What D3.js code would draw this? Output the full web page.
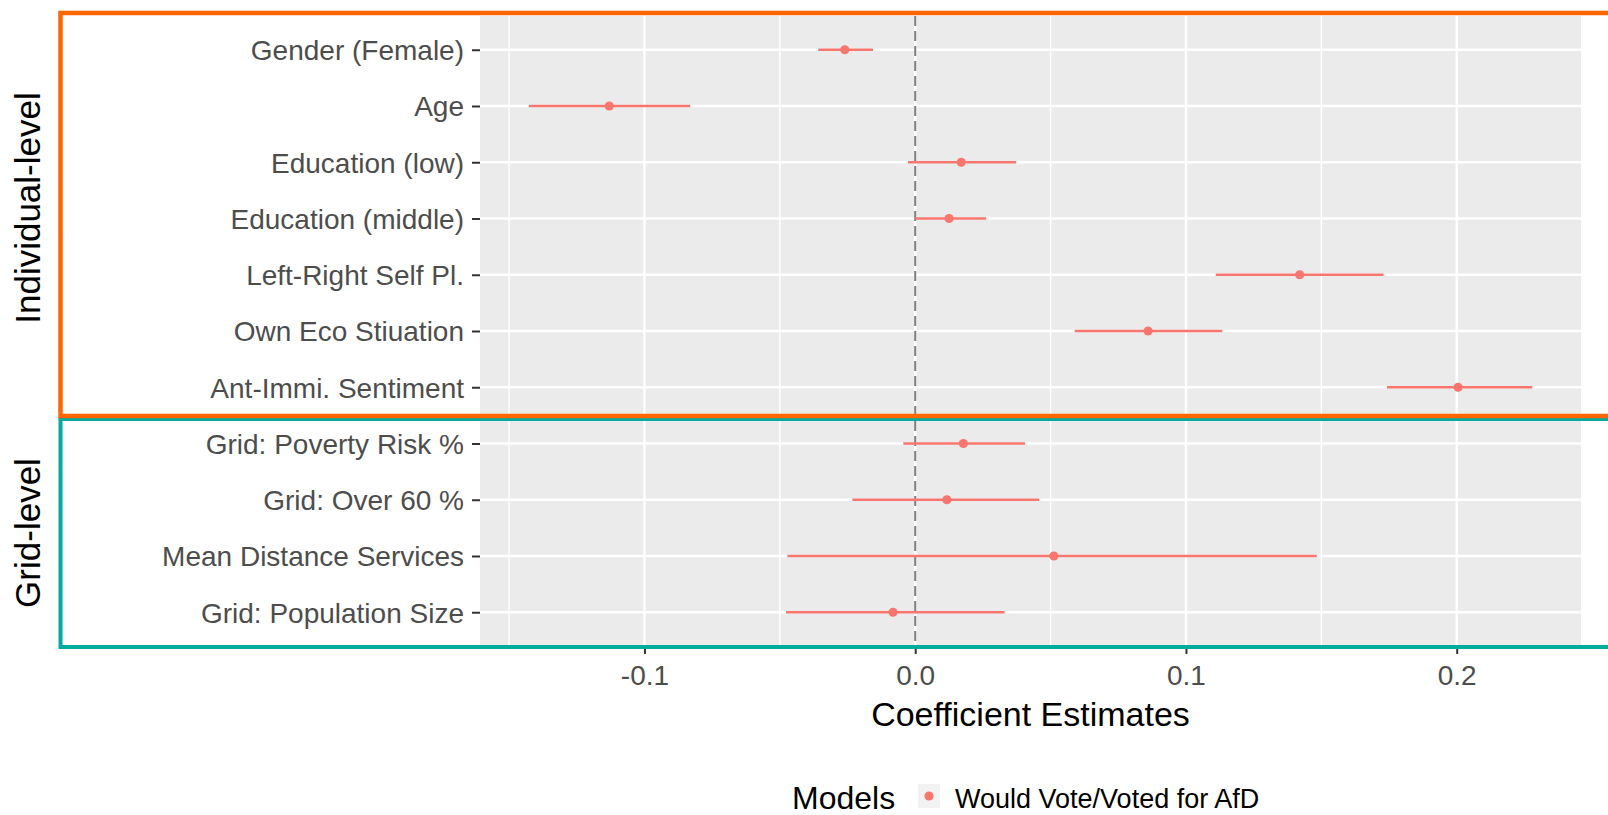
<!DOCTYPE html>
<html>
<head>
<meta charset="utf-8">
<script src="https://cdn.jsdelivr.net/npm/d3@7"></script>
<style>
  html, body { margin: 0; padding: 0; background: #ffffff; }
  svg { display: block; }
</style>
</head>
<body>
<script>
// ---------- data ----------
const categories = [
  "Gender (Female)", "Age", "Education (low)", "Education (middle)",
  "Left-Right Self Pl.", "Own Eco Stiuation", "Ant-Immi. Sentiment",
  "Grid: Poverty Risk %", "Grid: Over 60 %", "Mean Distance Services",
  "Grid: Population Size"
];
const estimates = [-0.026, -0.113, 0.017, 0.0125, 0.142, 0.086, 0.2005, 0.0178, 0.0117, 0.0512, -0.0082];
const lowerCI   = [-0.0358, -0.1427, -0.0027, 0.0, 0.111, 0.0589, 0.1742, -0.0044, -0.0232, -0.0472, -0.0477];
const upperCI   = [-0.0156, -0.0831, 0.0373, 0.0262, 0.173, 0.1134, 0.2279, 0.0406, 0.0458, 0.1483, 0.033];
const xTicks = [-0.1, 0.0, 0.1, 0.2];
const xMinorTicks = [-0.15, -0.05, 0.05, 0.15];
const groupLabels = ["Individual-level", "Grid-level"];
const xTitle = "Coefficient Estimates";
const legendTitle = "Models";
const seriesName = "Would Vote/Voted for AfD";

// ---------- layout ----------
const W = 1608, H = 815;
const panel = { left: 480, right: 1581, top: 16, bottom: 646 };
const pointColor = "#F8766D";
const font = "'Liberation Sans', Arial, Helvetica, sans-serif";

const svg = d3.select("body").append("svg")
  .attr("width", W).attr("height", H);

const x = d3.scaleLinear().domain([-0.16074, 0.2459]).range([panel.left, panel.right]);
const y = d3.scalePoint().domain(categories).range([panel.top, panel.bottom]).padding(0.6);

// panel background
svg.append("rect")
  .attr("x", panel.left).attr("y", panel.top)
  .attr("width", panel.right - panel.left).attr("height", panel.bottom - panel.top)
  .attr("fill", "#EBEBEB");

// minor grid
svg.append("g").selectAll("line").data(xMinorTicks).join("line")
  .attr("x1", d => x(d)).attr("x2", d => x(d))
  .attr("y1", panel.top).attr("y2", panel.bottom)
  .attr("stroke", "#ffffff").attr("stroke-width", 1.4);

// major grid vertical
svg.append("g").selectAll("line").data(xTicks).join("line")
  .attr("x1", d => x(d)).attr("x2", d => x(d))
  .attr("y1", panel.top).attr("y2", panel.bottom)
  .attr("stroke", "#ffffff").attr("stroke-width", 2.4);

// major grid horizontal
svg.append("g").selectAll("line").data(categories).join("line")
  .attr("x1", panel.left).attr("x2", panel.right)
  .attr("y1", d => y(d)).attr("y2", d => y(d))
  .attr("stroke", "#ffffff").attr("stroke-width", 2.4);

// zero reference line
svg.append("line")
  .attr("x1", x(0)).attr("x2", x(0))
  .attr("y1", panel.top).attr("y2", panel.bottom)
  .attr("stroke", "#7F7F7F").attr("stroke-width", 2)
  .attr("stroke-dasharray", "10,5");

// error bars & points
const rows = categories.map((c, i) => ({ c, est: estimates[i], lo: lowerCI[i], hi: upperCI[i] }));
svg.append("g").selectAll("line").data(rows).join("line")
  .attr("x1", d => x(d.lo)).attr("x2", d => x(d.hi))
  .attr("y1", d => y(d.c)).attr("y2", d => y(d.c))
  .attr("stroke", pointColor).attr("stroke-width", 2.6);
svg.append("g").selectAll("circle").data(rows).join("circle")
  .attr("cx", d => x(d.est)).attr("cy", d => y(d.c))
  .attr("r", 4.6).attr("fill", pointColor);

// y axis
const yAxis = svg.append("g")
  .attr("transform", `translate(${panel.left},0)`)
  .call(d3.axisLeft(y).tickSize(8).tickPadding(8));
yAxis.select(".domain").remove();
yAxis.selectAll(".tick line").attr("stroke", "#333333").attr("stroke-width", 2);
yAxis.selectAll(".tick text")
  .attr("fill", "#4D4D4D").attr("font-family", font).attr("font-size", 28)
  .attr("dy", "0.35em");

// x axis
const xAxis = svg.append("g")
  .attr("transform", `translate(0,${panel.bottom})`)
  .call(d3.axisBottom(x).tickValues(xTicks).tickFormat(d => d.toFixed(1)).tickSize(8).tickPadding(11));
xAxis.select(".domain").remove();
xAxis.selectAll(".tick line").attr("stroke", "#333333").attr("stroke-width", 2);
xAxis.selectAll(".tick text")
  .attr("fill", "#4D4D4D").attr("font-family", font).attr("font-size", 28);

// x title
svg.append("text")
  .attr("x", (panel.left + panel.right) / 2).attr("y", 726)
  .attr("text-anchor", "middle")
  .attr("font-family", font).attr("font-size", 34).attr("fill", "#000000")
  .text(xTitle);

// group boxes
svg.append("rect")
  .attr("x", 60.5).attr("y", 419).attr("width", 1600).attr("height", 228)
  .attr("fill", "none").attr("stroke", "#00AC9E").attr("stroke-width", 4);
svg.append("rect")
  .attr("x", 60.5).attr("y", 13).attr("width", 1600).attr("height", 403)
  .attr("fill", "none").attr("stroke", "#FF6600").attr("stroke-width", 4.5);

// group labels (rotated)
const groupCenters = [208, 533];
svg.append("g").selectAll("text").data(groupLabels).join("text")
  .attr("transform", (d, i) => `translate(40,${groupCenters[i]}) rotate(-90)`)
  .attr("text-anchor", "middle")
  .attr("font-family", font).attr("font-size", 35).attr("fill", "#000000")
  .text(d => d);

// legend
svg.append("text")
  .attr("x", 792).attr("y", 809)
  .attr("font-family", font).attr("font-size", 32).attr("fill", "#000000")
  .text(legendTitle);
svg.append("rect")
  .attr("x", 918).attr("y", 784).attr("width", 22).attr("height", 24)
  .attr("fill", "#F2F2F2");
svg.append("circle")
  .attr("cx", 929).attr("cy", 796).attr("r", 4.6).attr("fill", pointColor);
svg.append("text")
  .attr("x", 955).attr("y", 808)
  .attr("font-family", font).attr("font-size", 27).attr("fill", "#000000")
  .text(seriesName);
</script>
</body>
</html>
